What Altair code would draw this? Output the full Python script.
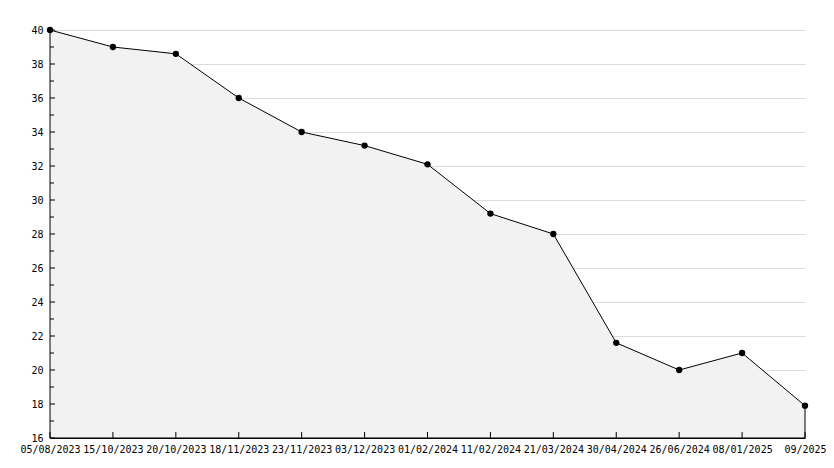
import altair as alt
import pandas as pd

dates = ["05/08/2023", "15/10/2023", "20/10/2023", "18/11/2023", "23/11/2023",
         "03/12/2023", "01/02/2024", "11/02/2024", "21/03/2024", "30/04/2024",
         "26/06/2024", "08/01/2025", "09/2025"]
values = [40, 39, 38.6, 36, 34, 33.2, 32.1, 29.2, 28, 21.6, 20, 21, 17.9]
major_ticks = list(range(16, 41, 2))
minor_ticks = list(range(17, 40, 2))

df = pd.DataFrame({"date": dates, "value": values})
df_major = pd.DataFrame({"value": major_ticks})
df_minor = pd.DataFrame({"value": minor_ticks})

FONT = "DejaVu Sans Mono"

x_scale = alt.Scale(type="point", padding=0)
x_axis = alt.Axis(title=None, labelAngle=0, labelFont=FONT, labelFontSize=10,
                  labelColor="black", tickSize=0, domainColor="black",
                  labelPadding=6, grid=False, labelOverlap=False)
x_enc = alt.X("date:O", sort=None, scale=x_scale, axis=x_axis)
y_scale = alt.Scale(domain=[16, 40], nice=False, zero=False)
y_axis = alt.Axis(title=None, values=major_ticks, labelFont=FONT, labelFontSize=10,
                  labelColor="black", tickSize=0, domainColor="black",
                  labelPadding=7, grid=True, gridColor="#dcdcdc",
                  labelOverlap=False, labelFlush=False)
y_enc = alt.Y("value:Q", scale=y_scale, axis=y_axis)

area = alt.Chart(df).mark_area(color="#f2f2f2", stroke="black", strokeWidth=1).encode(
    x=x_enc, y=y_enc, y2=alt.datum(16))
points = alt.Chart(df).mark_point(filled=True, color="black", size=40, opacity=1).encode(
    x=x_enc, y=y_enc)

xticks = alt.Chart(df).mark_rule(color="black", strokeWidth=1).encode(
    x=x_enc, y=alt.value(408), y2=alt.value(402))
ymaj = alt.Chart(df_major).mark_rule(color="black", strokeWidth=1).encode(
    y=y_enc, x=alt.value(0), x2=alt.value(5))
ymin = alt.Chart(df_minor).mark_rule(color="black", strokeWidth=1).encode(
    y=y_enc, x=alt.value(0), x2=alt.value(4))

chart = alt.layer(area, points, xticks, ymaj, ymin).properties(
    width=755, height=408,
    autosize=alt.AutoSizeParams(type="none"),
    padding={"left": 42, "top": 22, "right": 21, "bottom": 22},
    background="white",
).configure_view(stroke=None)

chart.save("out.html", embed_options={"renderer": "svg", "actions": False})
